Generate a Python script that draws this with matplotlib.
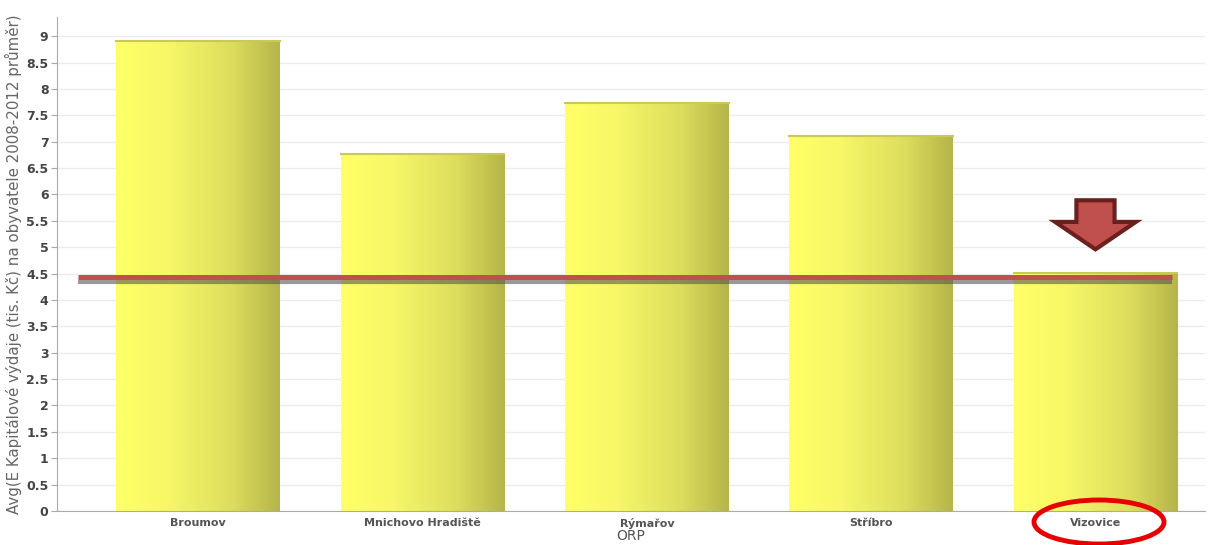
import numpy as np
import matplotlib
matplotlib.use("Agg")
import matplotlib.pyplot as plt
from matplotlib.colors import LinearSegmentedColormap
from matplotlib.patches import Ellipse, Polygon

# data
orp = ["Broumov", "Mnichovo Hradiště", "Rýmařov", "Stříbro", "Vizovice"]
values = [8.90, 6.76, 7.73, 7.10, 4.51]
ref_line = 4.44
yticks = [0, 0.5, 1, 1.5, 2, 2.5, 3, 3.5, 4, 4.5, 5, 5.5, 6, 6.5, 7, 7.5, 8, 8.5, 9]

fig = plt.figure(figsize=(12.09, 5.45), dpi=100)
ax = fig.add_axes([0.047, 0.0624, 0.95, 0.906])

cmap = LinearSegmentedColormap.from_list(
    "bar", [(0, "#ffff66"), (0.3, "#f8f868"), (0.7, "#dede5e"), (1, "#b5b54a")])
grad = np.linspace(0, 1, 200).reshape(1, -1)
w = 0.73
for i, v in enumerate(values):
    ax.imshow(grad, cmap=cmap, aspect="auto",
              extent=(i - w / 2, i + w / 2, 0, v), zorder=2)
    ax.plot([i - w / 2, i + w / 2], [v, v], color="#c9c95a", lw=1.5, zorder=3)

# reference line with grey shadow
ax.plot([-0.537, 4.34], [ref_line - 0.09, ref_line - 0.09], color="#555555",
        alpha=0.6, lw=3, zorder=4, solid_capstyle="butt")
ax.plot([-0.537, 4.34], [ref_line, ref_line], color="#c0504d",
        lw=3.6, zorder=5, solid_capstyle="butt")

ax.set_xlim(-0.631, 4.49)
ax.set_ylim(0, 9.36)
ax.set_yticks(yticks)
ax.set_yticklabels([f"{t:g}" for t in yticks])
ax.set_xticks(range(len(orp)))
ax.set_xticklabels(orp)
ax.yaxis.grid(True, color="#ececec", lw=1)
ax.set_axisbelow(True)
for s in ["top", "right"]:
    ax.spines[s].set_visible(False)
for s in ["left", "bottom"]:
    ax.spines[s].set_color("#aaaaaa")
ax.tick_params(axis="y", colors="#aaaaaa", labelcolor="#444444", labelsize=9,
               length=4, pad=2)
ax.tick_params(axis="x", length=0, labelcolor="#555555", labelsize=8, pad=5)
for lab in ax.get_xticklabels() + ax.get_yticklabels():
    lab.set_fontweight("bold")
ax.set_ylabel("Avg(E Kapitálové výdaje (tis. Kč) na obyvatele 2008-2012 průměr)",
              fontsize=10.8, color="#666666", labelpad=3)
ax.set_xlabel("ORP", fontsize=10, color="#555555", labelpad=0)

# arrow annotation above Vizovice
cx = 4.0
arrow = Polygon([(cx - 0.085, 5.89), (cx + 0.085, 5.89), (cx + 0.085, 5.48),
                 (cx + 0.18, 5.48), (cx, 4.96), (cx - 0.18, 5.48),
                 (cx - 0.085, 5.48)], closed=True, facecolor="#c0504d",
                edgecolor="#6b1f1f", lw=3, zorder=6)
ax.add_patch(arrow)

# red ellipse around Vizovice label
ell = Ellipse((1099 / 1209, 1 - 522 / 545), 130 / 1209, 44 / 545,
              transform=fig.transFigure, fill=False, edgecolor="#e80000", lw=3.5)
fig.patches.append(ell)

fig.savefig("out.png", dpi=100)
